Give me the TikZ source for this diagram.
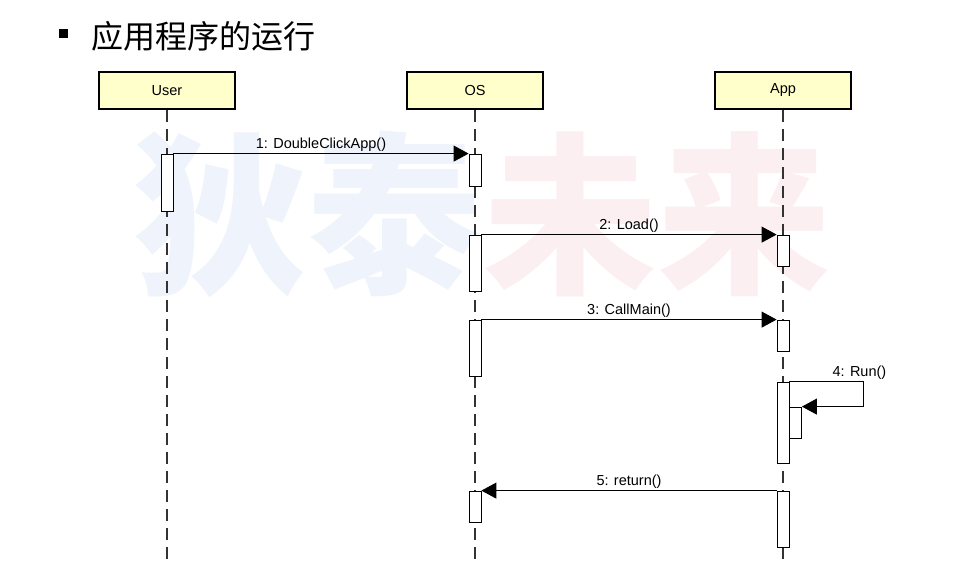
\documentclass[tikz,border=0pt]{standalone}
\usepackage{fontspec}
\setmainfont{Liberation Sans}
\newfontfamily\cjk{Noto Sans CJK SC}
\usetikzlibrary{arrows.meta}
\definecolor{boxfill}{HTML}{FFFFCC}
\definecolor{markblue}{HTML}{EFF3FB}
\definecolor{markpink}{HTML}{FBEFF2}
\begin{document}
\begin{tikzpicture}[x=1pt, y=-1pt,
    obj/.style={rectangle, draw=black, line width=2.2pt, fill=boxfill, minimum width=136pt, minimum height=37pt, font=\fontsize{14.5}{16}\selectfont},
    act/.style={rectangle, draw=black, line width=0.8pt, fill=white, minimum width=12pt, inner sep=0pt},
    life/.style={line width=1.2pt, black!80, dash pattern=on 12pt off 7pt},
    msg/.style={-{Triangle[length=15pt,width=16pt]}, line width=0.9pt, black},
    lbl/.style={font=\fontsize{14.5}{16}\selectfont, inner sep=1.5pt, text=black},
    wmark/.style={font=\cjk\bfseries\fontsize{174}{174}\selectfont, inner sep=0pt},
]
\useasboundingbox (0,0) rectangle (960,572);
\node[wmark, text=markblue] (wm1) at (307,214) {狄泰};
\node[wmark, text=markpink] (wm2) at (657,214) {未来};

\node[fill=black, minimum size=9pt, inner sep=0pt] (bullet) at (63,34) {};
\node[font=\cjk\fontsize{32}{36}\selectfont, anchor=west, inner sep=0pt] (title) at (91,36) {应用程序的运行};

\node[obj] (user) at (167,90.5) {User};
\node[obj] (os) at (475,90.5) {OS};
\node[obj] (app) at (783,90.5) {App};
\coordinate (uEnd) at (167,566);
\coordinate (oEnd) at (475,566);
\coordinate (aEnd) at (783,566);
\draw[life] (user) -- (uEnd);
\draw[life] (os) -- (oEnd);
\draw[life] (app) -- (aEnd);

\node[act, minimum height=57pt] (ua1) at (167,182.5) {};
\node[act, minimum height=32pt] (oa1) at (475,170) {};
\node[act, minimum height=56pt] (oa2) at (475,263) {};
\node[act, minimum height=31pt] (aa2) at (783,250.5) {};
\node[act, minimum height=56pt] (oa3) at (475,348) {};
\node[act, minimum height=31pt] (aa3) at (783,335.5) {};
\node[act, minimum height=81pt] (aa4) at (783,422.5) {};
\node[act, minimum height=31pt] (an4) at (795.5,422.5) {};
\node[act, minimum height=31pt] (oa5) at (475,506.5) {};
\node[act, minimum height=56pt] (aa5) at (783,519) {};

\draw[msg] (ua1.north east) -- (oa1.north west) node[lbl, midway, above] {1: DoubleClickApp()};
\draw[msg] (oa2.north east) -- (aa2.north west) node[lbl, midway, above] {2: Load()};
\draw[msg] (oa3.north east) -- (aa3.north west) node[lbl, midway, above] {3: CallMain()};
\draw[msg] (aa4.north east) -- ++(74,0) node[lbl, above, xshift=-4pt] {4: Run()} |- (an4.north east);
\draw[msg] (aa5.north west) -- (oa5.north east) node[lbl, midway, above] {5: return()};
\end{tikzpicture}
\end{document}
